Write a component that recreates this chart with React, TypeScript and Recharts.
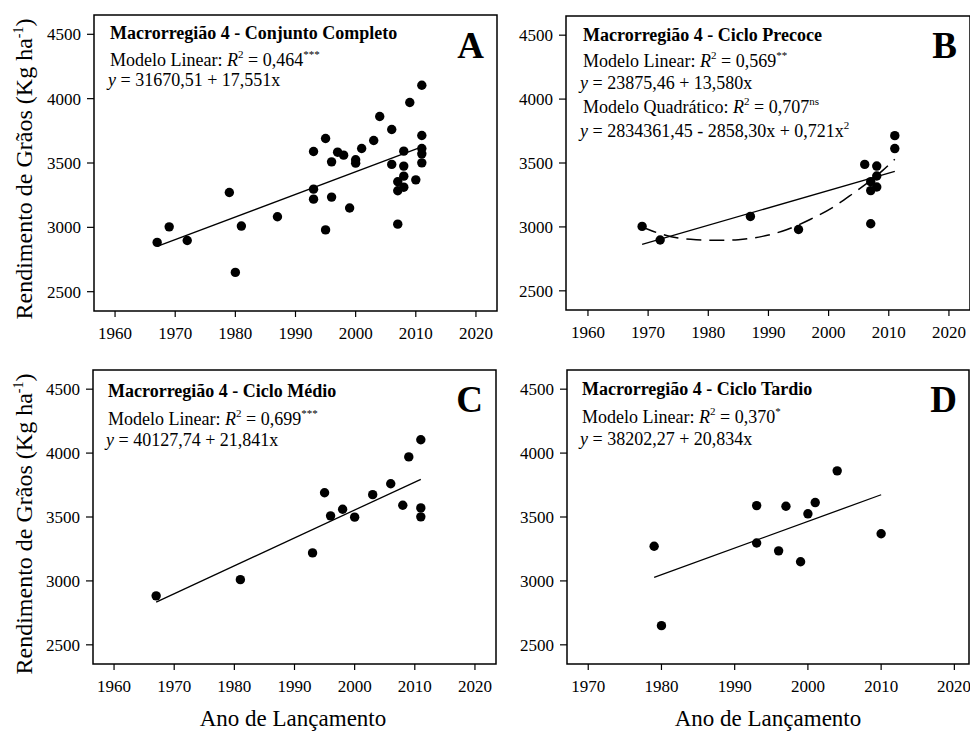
import { ComposedChart, Line, ReferenceArea, Scatter, XAxis, YAxis } from 'recharts'

const FONT = '"Liberation Serif", "Times New Roman", serif'

// Ciclo Precoce (B)
const precoceYears = [1969, 1972, 1987, 1995, 2006, 2007, 2007, 2007, 2008, 2008, 2008, 2011, 2011]
const precoceYield = [3004, 2898, 3082, 2980, 3489, 3354, 3284, 3025, 3476, 3398, 3312, 3714, 3613]

// Ciclo Médio (C)
const medioYears = [1967, 1981, 1993, 1995, 1996, 1998, 2000, 2003, 2006, 2008, 2009, 2011, 2011, 2011]
const medioYield = [2883, 3010, 3219, 3690, 3509, 3561, 3499, 3675, 3760, 3592, 3970, 4104, 3571, 3501]

// Ciclo Tardio (D)
const tardioYears = [1979, 1980, 1993, 1993, 1996, 1997, 1999, 2000, 2001, 2004, 2010]
const tardioYield = [3271, 2650, 3589, 3297, 3235, 3584, 3150, 3525, 3613, 3861, 3369]

// Conjunto completo (A) holds every cultivar of the three cycles
const todosYears = [...precoceYears, ...medioYears, ...tardioYears]
const todosYield = [...precoceYield, ...medioYield, ...tardioYield]

// fitted lines, end points
const linTodosYears = [1967, 2011]
const linTodosYield = [2852, 3625]
const linPrecoceYears = [1969, 2011]
const linPrecoceYield = [2864, 3434]
const linMedioYears = [1967, 2011]
const linMedioYield = [2834, 3795]
const linTardioYears = [1979, 2010]
const linTardioYield = [3028, 3674]

// dashed quadratic curve of panel B, traced point by point
const quadPrecoceYears = [1969, 1972, 1975, 1978, 1982, 1985, 1989, 1993, 1997, 2001, 2004, 2007, 2009, 2011]
const quadPrecoceYield = [2999, 2947, 2913, 2900, 2895, 2900, 2926, 2978, 3060, 3162, 3260, 3364, 3442, 3530]

const yTicks = [2500, 3000, 3500, 4000, 4500]
const xTicksFull = [1960, 1970, 1980, 1990, 2000, 2010, 2020]
const xTicksTardio = [1970, 1980, 1990, 2000, 2010, 2020]

const Y_DOMAIN: [number, number] = [2350, 4650]

type Pt = { x: number; y: number }
const toPts = (xs: number[], ys: number[]): Pt[] => xs.map((x, i) => ({ x, y: ys[i] }))

const xTick = (p: any) => (
  <text x={p.x} y={p.y} dy='0.71em' textAnchor='middle' fontSize={17} style={{ fontFamily: FONT }} fill='#000'>
    {p.payload.value}
  </text>
)
const yTick = (p: any) => (
  <text x={p.x} y={p.y} dy='0.36em' textAnchor='end' fontSize={17} style={{ fontFamily: FONT }} fill='#000'>
    {p.payload.value}
  </text>
)

const dot = (p: any) => <circle cx={p.cx} cy={p.cy} r={4.7} fill='#000' />

type PanelProps = {
  left: number
  top: number
  margin: { top: number; right: number; bottom: number; left: number }
  xDomain: [number, number]
  xTicks: number[]
  points: Pt[]
  linear: Pt[]
  quad?: Pt[]
}

function Panel({ left, top, margin, xDomain, xTicks, points, linear, quad }: PanelProps) {
  return (
    <div style={{ position: 'absolute', left, top }}>
      <ComposedChart width={500} height={350} margin={margin}>
        <XAxis
          type='number'
          dataKey='x'
          domain={xDomain}
          ticks={xTicks}
          allowDataOverflow
          axisLine={false}
          tickLine={{ stroke: '#000', strokeWidth: 1.2 }}
          tickSize={6}
          tickMargin={10}
          tick={xTick}
          height={30}
        />
        <YAxis
          type='number'
          dataKey='y'
          domain={Y_DOMAIN}
          ticks={yTicks}
          allowDataOverflow
          axisLine={false}
          tickLine={{ stroke: '#000', strokeWidth: 1.2 }}
          tickSize={7}
          tickMargin={6}
          tick={yTick}
          width={50}
        />
        <ReferenceArea
          x1={xDomain[0]}
          x2={xDomain[1]}
          y1={Y_DOMAIN[0]}
          y2={Y_DOMAIN[1]}
          fill='none'
          stroke='#000'
          strokeWidth={1.5}
        />
        {quad && (
          <Line
            data={quad}
            dataKey='y'
            type='monotone'
            stroke='#000'
            strokeWidth={1.5}
            strokeDasharray='15 8'
            dot={false}
            isAnimationActive={false}
          />
        )}
        <Line
          data={linear}
          dataKey='y'
          type='linear'
          stroke='#000'
          strokeWidth={1.3}
          dot={false}
          isAnimationActive={false}
        />
        <Scatter data={points} dataKey='y' fill='#000' shape={dot} isAnimationActive={false} />
      </ComposedChart>
    </div>
  )
}

// "Modelo ...: R² = value^sig"
function Fit({ x, y, label, r2, sig }: { x: number; y: number; label: string; r2: string; sig: string }) {
  return (
    <text x={x} y={y} fontSize={18}>
      {label}: <tspan fontStyle='italic'>R</tspan>
      <tspan fontSize={11} dy={-8}>2</tspan>
      <tspan dy={8}> = {r2}</tspan>
      <tspan fontSize={11} dy={-8}>{sig}</tspan>
    </text>
  )
}

function Eq({ x, y, children }: { x: number; y: number; children: any }) {
  return (
    <text x={x} y={y} fontSize={18}>
      <tspan fontStyle='italic'>y</tspan> = {children}
    </text>
  )
}

function Overlay() {
  return (
    <svg
      width={976}
      height={731}
      style={{ position: 'absolute', left: 0, top: 0, pointerEvents: 'none' }}
      fontFamily={FONT}
      fill='#000'
    >
      {/* A */}
      <text x={110} y={39} fontSize={18} fontWeight='bold'>Macrorregião 4 - Conjunto Completo</text>
      <Fit x={110} y={66} label='Modelo Linear' r2='0,464' sig='***' />
      <Eq x={108} y={86}>31670,51 + 17,551x</Eq>
      <text x={484} y={58} fontSize={37} fontWeight='bold' textAnchor='end'>A</text>

      {/* B */}
      <text x={583} y={41} fontSize={18} fontWeight='bold'>Macrorregião 4 - Ciclo Precoce</text>
      <Fit x={583} y={67} label='Modelo Linear' r2='0,569' sig='**' />
      <Eq x={580} y={89}>23875,46 + 13,580x</Eq>
      <Fit x={583} y={113} label='Modelo Quadrático' r2='0,707' sig='ns' />
      <text x={580} y={137} fontSize={18}>
        <tspan fontStyle='italic'>y</tspan> = 2834361,45 - 2858,30x + 0,721x
        <tspan fontSize={11} dy={-8}>2</tspan>
      </text>
      <text x={957} y={58} fontSize={37} fontWeight='bold' textAnchor='end'>B</text>

      {/* C */}
      <text x={108} y={397} fontSize={18} fontWeight='bold'>Macrorregião 4 - Ciclo Médio</text>
      <Fit x={108} y={425} label='Modelo Linear' r2='0,699' sig='***' />
      <Eq x={106} y={446}>40127,74 + 21,841x</Eq>
      <text x={483} y={412} fontSize={37} fontWeight='bold' textAnchor='end'>C</text>

      {/* D */}
      <text x={582} y={395} fontSize={18} fontWeight='bold'>Macrorregião 4 - Ciclo Tardio</text>
      <Fit x={582} y={423} label='Modelo Linear' r2='0,370' sig='*' />
      <Eq x={580} y={445}>38202,27 + 20,834x</Eq>
      <text x={957} y={412} fontSize={37} fontWeight='bold' textAnchor='end'>D</text>

      {/* axis titles */}
      <text x={32} y={169} fontSize={24} textAnchor='middle' transform='rotate(-90 32 169)'>
        Rendimento de Grãos (Kg ha<tspan fontSize={14} dy={-9}>-1</tspan><tspan dy={9}>)</tspan>
      </text>
      <text x={32} y={524} fontSize={24} textAnchor='middle' transform='rotate(-90 32 524)'>
        Rendimento de Grãos (Kg ha<tspan fontSize={14} dy={-9}>-1</tspan><tspan dy={9}>)</tspan>
      </text>
      <text x={293} y={726} fontSize={23} textAnchor='middle'>Ano de Lançamento</text>
      <text x={768} y={726} fontSize={23} textAnchor='middle'>Ano de Lançamento</text>
    </svg>
  )
}

export default function App() {
  return (
    <div style={{ position: 'absolute', left: 0, top: 0, width: 976, height: 731, background: '#fff', fontFamily: FONT }}>
      <Panel
        left={0}
        top={0}
        margin={{ top: 15, right: 3, bottom: 9, left: 44 }}
        xDomain={[1956.5, 2023.5]}
        xTicks={xTicksFull}
        points={toPts(todosYears, todosYield)}
        linear={toPts(linTodosYears, linTodosYield)}
      />
      <Panel
        left={470}
        top={0}
        margin={{ top: 16, right: 0, bottom: 10, left: 46 }}
        xDomain={[1956.35, 2023.5]}
        xTicks={xTicksFull}
        points={toPts(precoceYears, precoceYield)}
        linear={toPts(linPrecoceYears, linPrecoceYield)}
        quad={toPts(quadPrecoceYears, quadPrecoceYield)}
      />
      <Panel
        left={0}
        top={355}
        margin={{ top: 15, right: 4, bottom: 11, left: 43 }}
        xDomain={[1956.5, 2023.5]}
        xTicks={xTicksFull}
        points={toPts(medioYears, medioYield)}
        linear={toPts(linMedioYears, linMedioYield)}
      />
      <Panel
        left={470}
        top={355}
        margin={{ top: 15, right: 1, bottom: 11, left: 47 }}
        xDomain={[1967.1, 2022]}
        xTicks={xTicksTardio}
        points={toPts(tardioYears, tardioYield)}
        linear={toPts(linTardioYears, linTardioYield)}
      />
      <Overlay />
    </div>
  )
}
